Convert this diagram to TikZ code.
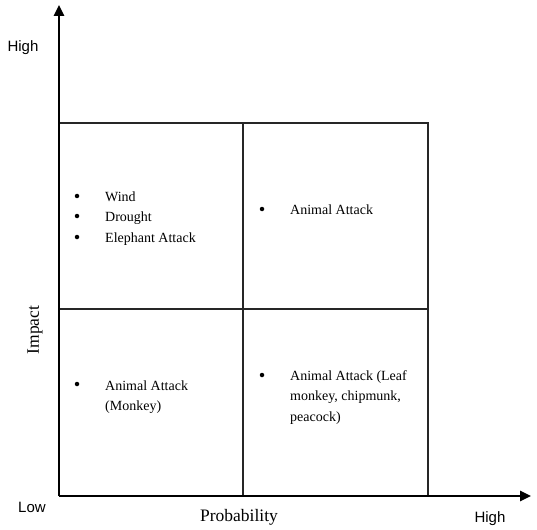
\documentclass[tikz,border=0pt]{standalone}
\usepackage{fontspec}
\setmainfont{Liberation Serif}
\newfontfamily\labelfont{Liberation Sans}
\usetikzlibrary{positioning,arrows.meta}

\tikzset{
    axisline/.style={line width=2.5pt, -{Triangle[length=11pt,width=10pt]}},
    gridline/.style={line width=1.2pt, black!85},
    item/.style={anchor=base west, inner sep=0pt, align=left, font=\fontsize{14}{20.5}\selectfont},
    dot/.style={circle, fill=black, inner sep=0pt, minimum size=4.5pt},
    axislabel/.style={inner sep=0pt, font=\fontsize{15}{17}\labelfont},
    axistitle/.style={inner sep=0pt, font=\fontsize{17.5}{20}\selectfont},
}

\begin{document}
\begin{tikzpicture}[x=1pt, y=-1pt]
    \useasboundingbox (0,0) rectangle (537,529);

    % axes
    \coordinate (O) at (59,496);
    \coordinate (Ytop) at (59,5);
    \coordinate (Xend) at (531,496);

    % matrix corners
    \coordinate (TL) at (59,123);
    \coordinate (TR) at (428,123);
    \coordinate (BR) at (428,496);
    \coordinate (TM) at (243,123);
    \coordinate (BM) at (243,496);
    \coordinate (ML) at (59,309);
    \coordinate (MR) at (428,309);

    \draw [gridline] (TL) -- (TR) -- (BR);
    \draw [gridline] (TM) -- (BM);
    \draw [gridline] (ML) -- (MR);

    \draw [axisline] (O) -- (Ytop);
    \draw [axisline] (O) -- (Xend);

    % axis labels
    \node [axislabel] (yhigh) at (23,48) {High};
    \node [axislabel] (ylow) at (32,507) {Low};
    \node [axislabel] (xhigh) at (490,519) {High};
    \node [axistitle] (prob) at (239,517) {Probability};
    \node [axistitle, rotate=90] (impact) at (35,330) {Impact};

    % top left
    \node [dot] (d1) at (77,196) {};
    \node [item] (wind) at (105,201) {Wind};
    \node [dot] (d2) at (77,216) {};
    \node [item] (drought) at (105,221.5) {Drought};
    \node [dot] (d3) at (77,237) {};
    \node [item] (elephant) at (105,242) {Elephant Attack};

    % top right
    \node [dot] (d4) at (262,209) {};
    \node [item] (animal) at (290,214) {Animal Attack};

    % bottom left (base is the last line)
    \node [dot] (d5) at (77,384) {};
    \node [item] (monkey) at (105,410.5) {Animal Attack\\(Monkey)};

    % bottom right
    \node [dot] (d6) at (262,375) {};
    \node [item] (leaf) at (290,421) {Animal Attack (Leaf\\monkey, chipmunk,\\peacock)};
\end{tikzpicture}
\end{document}
